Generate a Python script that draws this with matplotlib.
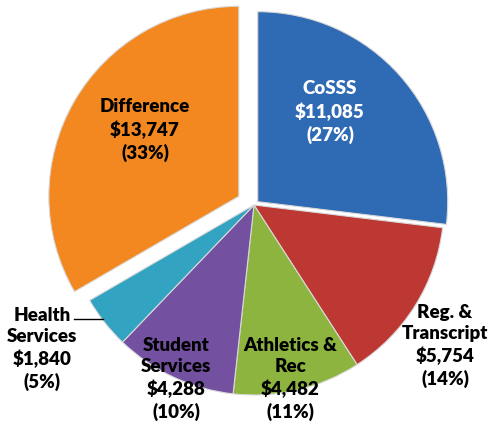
import matplotlib.pyplot as plt

# budget slices, clockwise from the top
categories = ["CoSSS", "Reg. &\nTranscript", "Athletics &\nRec", "Student\nServices",
              "Health\nServices", "Difference"]
amounts = [11085, 5754, 4482, 4288, 1840, 13747]
percents = [27, 14, 11, 10, 5, 33]

colors = ["#2F6BB4", "#BE3833", "#8CB43E", "#7350A0", "#32A4C2", "#F2881F"]
explode = [5, 0, 0, 0, 0, 17.5]   # pixel offsets
# label positions in pixel space (y up)
label_pos = [(330, 317), (445, 83), (290, 50), (176, 50), (42, 80), (145, 299)]
label_col = ["white", "black", "black", "black", "black", "black"]

plt.rcParams['font.family'] = ['Lato', 'DejaVu Sans']

fig = plt.figure(figsize=(4.9, 4.29), dpi=100)
ax = fig.add_axes([0, 0, 1, 1])

ax.pie(amounts, colors=colors, explode=explode, startangle=90, counterclock=False,
       center=(254, 224), radius=190,
       wedgeprops=dict(edgecolor="#d9d9d9", linewidth=0.8))

ax.set_xlim(0, 490)
ax.set_ylim(0, 429)
ax.set_aspect('equal')
ax.axis('off')

for name, amt, pct, (x, y), c in zip(categories, amounts, percents, label_pos, label_col):
    ax.text(x, y, f"{name}\n${amt:,}\n({pct}%)", ha='center', va='center',
            fontsize=13.5, fontweight='heavy', color=c, linespacing=1.32)

# leader line for the small slice
ax.plot([74, 103], [110, 110], color='black', linewidth=1)

fig.savefig("out.png", dpi=100)
